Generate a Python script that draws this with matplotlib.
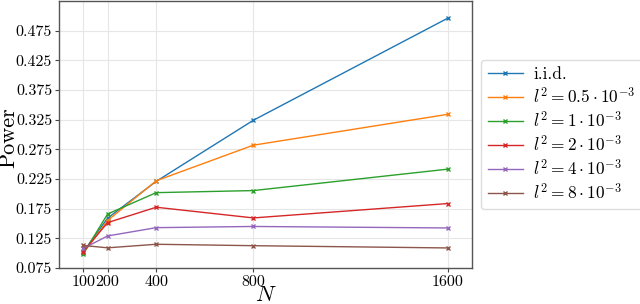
import matplotlib
matplotlib.use("Agg")
import matplotlib.pyplot as plt

plt.rcParams['font.family'] = 'serif'
plt.rcParams['font.serif'] = ['cmr10']
plt.rcParams['mathtext.fontset'] = 'cm'
plt.rcParams['axes.formatter.use_mathtext'] = True

N = [100, 200, 400, 800, 1600]
labels = ["i.i.d.", r"$l^2 = 0.5\cdot 10^{-3}$", r"$l^2 = 1\cdot 10^{-3}$",
          r"$l^2 = 2\cdot 10^{-3}$", r"$l^2 = 4\cdot 10^{-3}$", r"$l^2 = 8\cdot 10^{-3}$"]
iid = [0.102, 0.159, 0.221, 0.324, 0.496]
l05 = [0.100, 0.155, 0.222, 0.282, 0.334]
l1 = [0.099, 0.166, 0.202, 0.2055, 0.2416]
l2 = [0.1025, 0.1515, 0.1774, 0.1594, 0.1836]
l4 = [0.108, 0.129, 0.143, 0.145, 0.1425]
l8 = [0.113, 0.109, 0.115, 0.1126, 0.1088]
series = [iid, l05, l1, l2, l4, l8]
colors = ['#1f77b4', '#ff7f0e', '#2ca02c', '#d62728', '#9467bd', '#8c564b']
yticks = [0.075, 0.125, 0.175, 0.225, 0.275, 0.325, 0.375, 0.425, 0.475]

fig = plt.figure(figsize=(6.4, 3.04), dpi=100)
ax = fig.add_axes([59/640, 1 - 268/304, (472-59)/640, (268-1)/304])
for s, lab, c in zip(series, labels, colors):
    ax.plot(N, s, color=c, marker='x', markersize=3, linewidth=1.0, label=lab)

ax.set_xlim(0, 1700)
ax.set_ylim(0.075, 0.525)
ax.set_xticks(N)
ax.set_xticklabels([str(n) for n in N])
ax.set_yticks(yticks)
ax.set_yticklabels(["%.3f" % t for t in yticks])
ax.tick_params(labelsize=11.5, length=3, color='#444444', pad=2)
ax.grid(True, color='#e6e6e6', linewidth=0.8)
ax.set_axisbelow(True)
for sp in ax.spines.values():
    sp.set_color('#555555')
    sp.set_linewidth(1.0)
fig.text(9/640, 1 - 138/304, "Power", fontsize=16, rotation=90, ha='center', va='center')
fig.text(266/640, 1 - 301/304, r"$N$", fontsize=16, ha='center', va='baseline')
leg = ax.legend(loc='center left', bbox_to_anchor=(1 + 9/413, 0.5), borderaxespad=0,
                fontsize=12.5, frameon=True, fancybox=True, edgecolor='#dddddd', framealpha=1.0,
                handlelength=2.0, handletextpad=0.6, labelspacing=0.22, borderpad=0.4)
fig.savefig("out.png", dpi=100)
